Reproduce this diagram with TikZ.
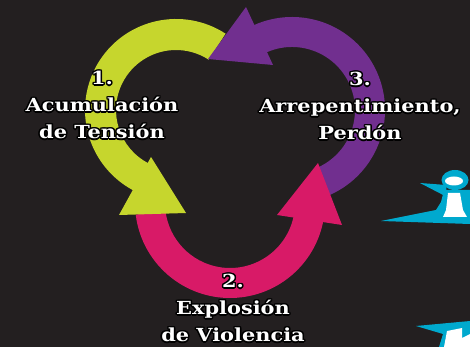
\documentclass[tikz,border=0pt]{standalone}
\usepackage{fontspec}
\usepackage{tikz}
\usetikzlibrary{calc}
\newfontfamily\cyclefont{DejaVu Serif}
\definecolor{bgdark}{RGB}{35,31,32}
\definecolor{cyclegreen}{RGB}{198,214,45}
\definecolor{cyclepurple}{RGB}{113,47,143}
\definecolor{cyclemagenta}{RGB}{216,26,103}
\definecolor{cyclecyan}{RGB}{0,169,206}
\tikzset{
  cyclelabel/.style={font=\cyclefont\bfseries\fontsize{18}{27}\selectfont,
    align=center, inner sep=0pt, xscale=1.16}
}
% white text with a black rim
\newcommand{\outlinedlabel}[3]{%
  \foreach \ang in {0,30,...,330}
    \node[cyclelabel,text=black] at ($(#1)+(\ang:1.5)$) {#3};
  \node[cyclelabel,text=white] (#2) at (#1) {#3};
}

\begin{document}
\begin{tikzpicture}[x=1pt,y=1pt]
  \fill[bgdark] (0,0) rectangle (470,347);
  \useasboundingbox (0,0) rectangle (470,347);
  % bands
  \fill[cyclegreen] (176,237) ++(57:91) arc[start angle=57,end angle=243,radius=91]
    -- ($(176,237)+(243:60)$) arc[start angle=243,end angle=57,radius=60] -- cycle;
  \fill[cyclemagenta] (230,144) ++(187:95) arc[start angle=187,end angle=350,radius=95]
    -- ($(230,144)+(350:65)$) arc[start angle=350,end angle=187,radius=65] -- cycle;
  \fill[cyclepurple] (292,237) ++(-66:93) arc[start angle=-66,end angle=115,radius=93]
    -- ($(292,237)+(115:63)$) arc[start angle=115,end angle=-66,radius=63] -- cycle;
  % heads
  \fill[cyclegreen] (151,190) -- (186,134) -- (119,132) -- cycle;
  \fill[cyclemagenta] (277,132) -- (318,184) -- (342,122) -- cycle;
  \fill[cyclepurple] (273,282) -- (208,288) -- (246,340) -- cycle;
  % labels
  \outlinedlabel{102,242}{tension}{1.\\Acumulación\\de Tensión}
  \outlinedlabel{233,39}{violencia}{2.\\Explosión\\de Violencia}
  \outlinedlabel{360,241}{perdon}{3.\\Arrepentimiento,\\Perdón}
  % cut-off letters at the right edge
  \fill[cyclecyan] (381,126) -- (436,137) -- (441,145) -- (444,157) -- (470,157) -- (470,123) -- cycle;
  \fill[cyclecyan] (420,164) -- (446,162) -- (447,150) -- cycle;
  \fill[cyclecyan] (455,167) ellipse[x radius=13.5,y radius=10];
  \fill[white] (454,166) ellipse[x radius=9,y radius=4.5];
  \fill[white] (448,154) -- (460,154) -- (463,137) -- (467,130) -- (443,130) -- (446,137) -- cycle;
  \fill[cyclecyan] (416,21) -- (470,26) -- (470,0) -- (439,0) -- (443,13) -- cycle;
  \fill[white] (447,16) -- (462,19) -- (462,9) -- (470,13) -- (470,0) -- (444,0) -- cycle;
\end{tikzpicture}
\end{document}
